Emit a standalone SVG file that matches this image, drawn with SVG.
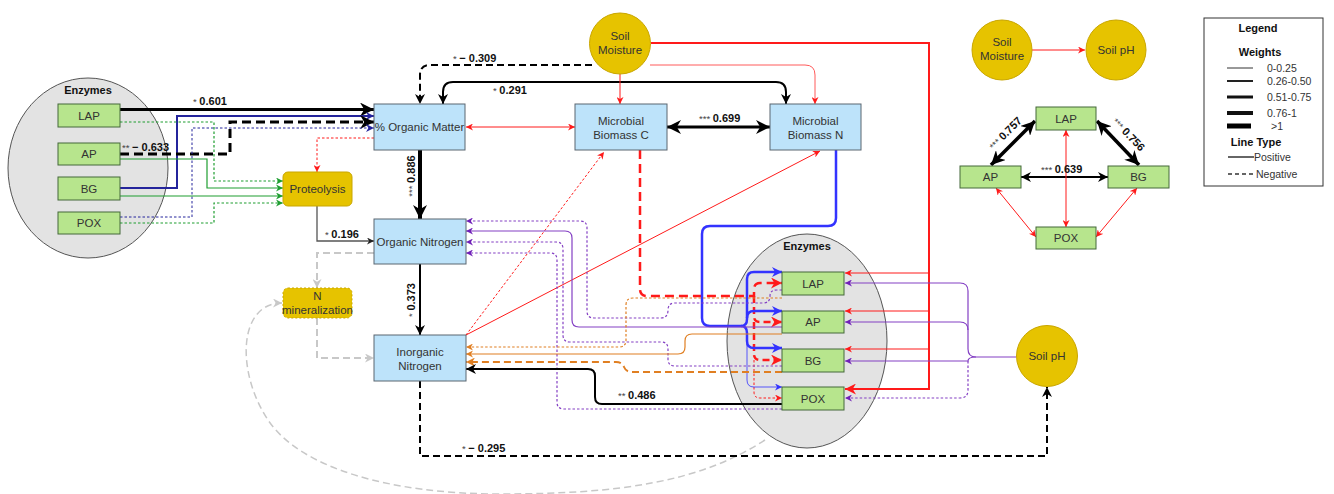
<svg xmlns="http://www.w3.org/2000/svg" width="1334" height="494" viewBox="0 0 1334 494">
<style>
.box{fill:#bde3fa;stroke:#5b6670;stroke-width:1}
.enz{fill:#b7e58d;stroke:#44683a;stroke-width:1}
.gold{fill:#e6c300;stroke:#c9a600;stroke-width:1}
.ell{fill:#e3e3e3;stroke:#555;stroke-width:1}
.t{font-family:"Liberation Sans",Arial,sans-serif;font-size:11.5px;fill:#333;text-anchor:middle}
.hd{font-family:"Liberation Sans",Arial,sans-serif;font-size:11px;font-weight:bold;fill:#111;text-anchor:middle}
.lbl{font-family:"Liberation Sans",Arial,sans-serif;font-size:11px;font-weight:bold;fill:#111}
.st{font-weight:normal;font-size:9.5px;fill:#444}
.lg{font-family:"Liberation Sans",Arial,sans-serif;font-size:10.5px;fill:#333}
#connectors path{fill:none}
.k{stroke:#000}
.r{stroke:#ff1a1a}
.rl{stroke:#ff5a5a}
.b{stroke:#3333ff}
.nv{stroke:#24249c}
.p{stroke:#8440c4}
.o{stroke:#e07f22}
.g{stroke:#1e9e30}
.gr{stroke:#c8c8c8}
.dk{stroke:#555}
.dot{stroke-dasharray:2.5 2}
.dsh{stroke-dasharray:7 4}
.dshL{stroke-dasharray:9 5}
</style>
<defs>
<marker id="ak" viewBox="0 0 10 10" refX="10" refY="5" markerWidth="10" markerHeight="10" markerUnits="userSpaceOnUse" orient="auto-start-reverse"><path d="M0,0 L10,5 L0,10 L3,5z" fill="#000"/></marker>
<marker id="akL" viewBox="0 0 10 10" refX="10" refY="5" markerWidth="14" markerHeight="14" markerUnits="userSpaceOnUse" orient="auto-start-reverse"><path d="M0,0 L10,5 L0,10 L3,5z" fill="#000"/></marker>
<marker id="ar" viewBox="0 0 10 10" refX="10" refY="5" markerWidth="7" markerHeight="7" markerUnits="userSpaceOnUse" orient="auto-start-reverse"><path d="M0,0 L10,5 L0,10 L3,5z" fill="#ff1a1a"/></marker>
<marker id="arL" viewBox="0 0 10 10" refX="10" refY="5" markerWidth="11" markerHeight="11" markerUnits="userSpaceOnUse" orient="auto-start-reverse"><path d="M0,0 L10,5 L0,10 L3,5z" fill="#ff1a1a"/></marker>
<marker id="ab" viewBox="0 0 10 10" refX="10" refY="5" markerWidth="10" markerHeight="10" markerUnits="userSpaceOnUse" orient="auto"><path d="M0,0 L10,5 L0,10 L3,5z" fill="#3333ff"/></marker>
<marker id="abs" viewBox="0 0 10 10" refX="10" refY="5" markerWidth="7" markerHeight="7" markerUnits="userSpaceOnUse" orient="auto"><path d="M0,0 L10,5 L0,10 L3,5z" fill="#3333ff"/></marker>
<marker id="anv" viewBox="0 0 10 10" refX="10" refY="5" markerWidth="8" markerHeight="8" markerUnits="userSpaceOnUse" orient="auto"><path d="M0,0 L10,5 L0,10 L3,5z" fill="#24249c"/></marker>
<marker id="ap" viewBox="0 0 10 10" refX="10" refY="5" markerWidth="7" markerHeight="7" markerUnits="userSpaceOnUse" orient="auto"><path d="M0,0 L10,5 L0,10 L3,5z" fill="#7020b8"/></marker>
<marker id="ao" viewBox="0 0 10 10" refX="10" refY="5" markerWidth="7" markerHeight="7" markerUnits="userSpaceOnUse" orient="auto"><path d="M0,0 L10,5 L0,10 L3,5z" fill="#e07f22"/></marker>
<marker id="aoL" viewBox="0 0 10 10" refX="10" refY="5" markerWidth="9" markerHeight="9" markerUnits="userSpaceOnUse" orient="auto"><path d="M0,0 L10,5 L0,10 L3,5z" fill="#e07f22"/></marker>
<marker id="ag" viewBox="0 0 10 10" refX="10" refY="5" markerWidth="7" markerHeight="7" markerUnits="userSpaceOnUse" orient="auto"><path d="M0,0 L10,5 L0,10 L3,5z" fill="#1e9e30"/></marker>
<marker id="agr" viewBox="0 0 10 10" refX="10" refY="5" markerWidth="9" markerHeight="9" markerUnits="userSpaceOnUse" orient="auto"><path d="M0,0 L10,5 L0,10 L3,5z" fill="#c8c8c8"/></marker>
<marker id="adk" viewBox="0 0 10 10" refX="10" refY="5" markerWidth="7" markerHeight="7" markerUnits="userSpaceOnUse" orient="auto"><path d="M0,0 L10,5 L0,10 L3,5z" fill="#222"/></marker>
</defs>
<rect width="1334" height="494" fill="#fff"/>

<g id="enzymes-left">
<ellipse class="ell" cx="88" cy="168" rx="80" ry="90"/>
<text class="hd" x="88" y="94">Enzymes</text>
</g>
<g id="enzymes-right">
<ellipse class="ell" cx="807" cy="341" rx="80" ry="107"/>
<text class="hd" x="807" y="250">Enzymes</text>
</g>

<g id="connectors">
<path class="k" stroke-width="3" d="M120,109.5 H374" marker-end="url(#akL)"/>
<path class="nv" stroke-width="2" d="M120,188 H177 V116 H374" marker-end="url(#anv)"/>
<path class="k dshL" stroke-width="3" d="M120,154 H230 V122 H374" marker-end="url(#akL)"/>
<path class="nv dot" stroke-width="1" d="M120,217 H192 V128 H374" marker-end="url(#anv)"/>
<path class="g dot" stroke-width="1.2" d="M120,122 H214 V181 H283" marker-end="url(#ag)"/>
<path class="g" stroke-width="1.2" d="M120,159 H207 V188 H283" marker-end="url(#ag)"/>
<path class="g" stroke-width="1.2" d="M120,196 H283" marker-end="url(#ag)"/>
<path class="g dot" stroke-width="1.2" d="M120,223 H214 V203 H283" marker-end="url(#ag)"/>
<path class="r dot" stroke-width="1" d="M374,138 H317 V172" marker-end="url(#ar)"/>
<path class="dk" stroke-width="1.3" d="M317,206 V241 H374" marker-end="url(#adk)"/>
<path class="k" stroke-width="4" d="M420,150 V219" marker-end="url(#akL)"/>
<path class="k" stroke-width="2" d="M420,264 V335" marker-end="url(#ak)"/>
<path class="gr dsh" stroke-width="2" d="M374,253 H317 V288" marker-end="url(#agr)"/>
<path class="gr dsh" stroke-width="2" d="M317,318 V358 H374" marker-end="url(#agr)"/>
<path class="gr dsh" stroke-width="1.5" d="M765,440 C700,482 620,494 500,494 C390,494 300,468 268,420 C236,372 238,303 282,303" marker-end="url(#agr)"/>
<path class="k dsh" stroke-width="2" d="M420,381 V456 H1047 V387" marker-end="url(#ak)"/>
<path class="k dsh" stroke-width="2" d="M592,65 H430 Q420,65 420,75 V104" marker-end="url(#ak)"/>
<path class="k" stroke-width="2" d="M443,104 V92 Q443,82 453,82 H776 Q786,82 786,92 V104" marker-start="url(#ak)" marker-end="url(#ak)"/>
<path class="r" stroke-width="1" d="M620,74 V104" marker-end="url(#ar)"/>
<path class="rl" stroke-width="1" d="M650,65 H805 Q815,65 815,75 V104" marker-end="url(#ar)"/>
<path class="r" stroke-width="2" d="M651,43 H929 V389 H845" marker-end="url(#arL)"/>
<path class="r" stroke-width="1" d="M929,273 H845" marker-end="url(#ar)"/>
<path class="r" stroke-width="1" d="M929,311 H845" marker-end="url(#ar)"/>
<path class="r" stroke-width="1" d="M929,349 H845" marker-end="url(#ar)"/>
<path class="p" stroke-width="1.2" d="M1016,357 H976 Q968,357 968,349 V291 Q968,283 960,283 H845" marker-end="url(#ap)"/>
<path class="p" stroke-width="1.2" d="M968,330 Q968,322 960,322 H845" marker-end="url(#ap)"/>
<path class="p" stroke-width="1.2" d="M976,357 Q968,357 968,361 H845" marker-end="url(#ap)"/>
<path class="p dot" stroke-width="1.2" d="M968,361 V390 Q968,398 960,398 H845" marker-end="url(#ap)"/>
<path class="r" stroke-width="1" d="M466,127 H575" marker-start="url(#ar)" marker-end="url(#ar)"/>
<path class="k" stroke-width="3" d="M667,127 H770" marker-start="url(#akL)" marker-end="url(#akL)"/>
<path class="r dot" stroke-width="1" d="M466,335 L604,152" marker-end="url(#ar)"/>
<path class="r" stroke-width="1" d="M466,335 L820,151" marker-end="url(#ar)"/>
<path class="r dshL" stroke-width="2.5" d="M640,150 V289 Q640,296 647,296 H754 V290 Q754,283 760,283 H782" marker-end="url(#arL)"/>
<path class="r dsh" stroke-width="2.5" d="M754,296 V316 Q754,322 760,322 H782" marker-end="url(#arL)"/>
<path class="r dsh" stroke-width="2.5" d="M754,322 V354 Q754,360 760,360 H782" marker-end="url(#arL)"/>
<path class="r dot" stroke-width="1" d="M754,360 V392 Q754,398 760,398 H782" marker-end="url(#ar)"/>
<path class="b" stroke-width="2.5" d="M836,150 V218 Q836,226 828,226 H710 Q702,226 702,234 V318 Q702,326 710,326 H741 Q747,326 747,319 V279 Q747,272 754,272 H782" marker-end="url(#ab)"/>
<path class="b" stroke-width="2.5" d="M747,318 Q747,311 754,311 H782" marker-end="url(#ab)"/>
<path class="b" stroke-width="2.5" d="M741,326 Q747,326 747,333 V341 Q747,348 754,348 H782" marker-end="url(#ab)"/>
<path class="b" stroke-width="1" stroke-opacity="0.8" d="M747,341 V380 Q747,387 754,387 H782" marker-end="url(#abs)"/>
<path class="p dot" stroke-width="1.2" d="M782,290 H777 Q770,290 770,296 Q770,303 763,303 H675 Q668,303 668,310 Q668,318 661,318 H594 Q587,318 587,311 V228 Q587,221 580,221 H466" marker-end="url(#ap)"/>
<path class="p" stroke-width="1.2" d="M782,327 H579 Q572,327 572,320 V238 Q572,231 565,231 H466" marker-end="url(#ap)"/>
<path class="p dot" stroke-width="1.2" d="M782,366 H675 Q668,366 668,359 V349 Q668,342 661,342 H570 Q563,342 563,335 V249 Q563,242 556,242 H466" marker-end="url(#ap)"/>
<path class="p dot" stroke-width="1.2" d="M782,409 H564 Q557,409 557,402 V260 Q557,253 550,253 H466" marker-end="url(#ap)"/>
<path class="o dot" stroke-width="1.2" d="M782,298 H633 Q626,298 626,305 V340 Q626,347 619,347 H466" marker-end="url(#ao)"/>
<path class="o" stroke-width="1.2" d="M782,334 H692 Q685,334 685,341 V347 Q685,354 678,354 H466" marker-end="url(#ao)"/>
<path class="o dsh" stroke-width="2" d="M782,372 H632 Q626,372 624,367 Q622,362 616,362 H466" marker-end="url(#aoL)"/>
<path class="k" stroke-width="2" d="M782,404 H602 Q595,404 595,397 V376 Q595,369 588,369 H466" marker-end="url(#ak)"/>
<path class="r" stroke-width="1" d="M1032,50 H1085" marker-end="url(#ar)"/>
<path class="k" stroke-width="3.5" d="M1035,121 L991,165" marker-start="url(#akL)" marker-end="url(#akL)"/>
<path class="k" stroke-width="3.5" d="M1097,121 L1139,165" marker-start="url(#akL)" marker-end="url(#akL)"/>
<path class="k" stroke-width="2" d="M1021,177 H1108" marker-start="url(#ak)" marker-end="url(#ak)"/>
<path class="r" stroke-width="1" d="M1066,130 V227" marker-start="url(#ar)" marker-end="url(#ar)"/>
<path class="r" stroke-width="1" d="M996,188 L1036,237" marker-start="url(#ar)" marker-end="url(#ar)"/>
<path class="r" stroke-width="1" d="M1137,188 L1096,237" marker-start="url(#ar)" marker-end="url(#ar)"/>
<text class="lbl" x="193" y="105"><tspan class="st">* </tspan>0.601</text>
<text class="lbl" x="122" y="151"><tspan class="st">** </tspan>− 0.633</text>
<text class="lbl" x="453" y="62"><tspan class="st">* </tspan>− 0.309</text>
<text class="lbl" x="493" y="94"><tspan class="st">* </tspan>0.291</text>
<text class="lbl" x="699" y="122"><tspan class="st">*** </tspan>0.699</text>
<text class="lbl" x="325" y="238"><tspan class="st">* </tspan>0.196</text>
<text class="lbl" text-anchor="middle" transform="translate(415,176) rotate(-90)"><tspan class="st">*** </tspan>0.886</text>
<text class="lbl" text-anchor="middle" transform="translate(415,300) rotate(-90)"><tspan class="st">* </tspan>0.373</text>
<text class="lbl" x="618" y="399"><tspan class="st">** </tspan>0.486</text>
<text class="lbl" x="462" y="452"><tspan class="st">* </tspan>− 0.295</text>
<text class="lbl" text-anchor="middle" transform="translate(1008,136) rotate(-45)"><tspan class="st">*** </tspan>0.757</text>
<text class="lbl" text-anchor="middle" transform="translate(1126,137) rotate(46)"><tspan class="st">*** </tspan>0.756</text>
<text class="lbl" x="1041" y="173"><tspan class="st">*** </tspan>0.639</text>
</g>

<g id="lap-left"><rect class="enz" x="58" y="104" width="62" height="23"/><text class="t" x="89" y="120">LAP</text></g>
<g id="ap-left"><rect class="enz" x="58" y="143" width="62" height="22"/><text class="t" x="89" y="158">AP</text></g>
<g id="bg-left"><rect class="enz" x="58" y="177" width="62" height="23"/><text class="t" x="89" y="193">BG</text></g>
<g id="pox-left"><rect class="enz" x="58" y="212" width="62" height="22"/><text class="t" x="89" y="227">POX</text></g>

<g id="organic-matter"><rect class="box" x="374" y="104" width="91" height="46"/><text class="t" x="419.5" y="131">% Organic Matter</text></g>
<g id="mbc"><rect class="box" x="575" y="104" width="92" height="46"/><text class="t" x="621" y="125">Microbial</text><text class="t" x="621" y="139">Biomass C</text></g>
<g id="mbn"><rect class="box" x="770" y="104" width="91" height="46"/><text class="t" x="815.5" y="125">Microbial</text><text class="t" x="815.5" y="139">Biomass N</text></g>
<g id="soil-moisture"><circle class="gold" cx="620" cy="43.5" r="30.5"/><text class="t" x="620" y="40">Soil</text><text class="t" x="620" y="54">Moisture</text></g>
<g id="proteolysis"><rect class="gold" x="283" y="172" width="69" height="34" rx="5"/><text class="t" x="317.5" y="193">Proteolysis</text></g>
<g id="n-mineralization"><rect class="gold" x="283" y="288" width="69" height="30" rx="5" stroke-dasharray="2 2"/><text class="t" x="317.5" y="300">N</text><text class="t" x="317.5" y="314">mineralization</text></g>
<g id="organic-nitrogen"><rect class="box" x="374" y="219" width="92" height="45"/><text class="t" x="420" y="246">Organic Nitrogen</text></g>
<g id="inorganic-nitrogen"><rect class="box" x="374" y="335" width="92" height="46"/><text class="t" x="420" y="356">Inorganic</text><text class="t" x="420" y="370">Nitrogen</text></g>

<g id="lap-right"><rect class="enz" x="782" y="272" width="62" height="23"/><text class="t" x="813" y="288">LAP</text></g>
<g id="ap-right"><rect class="enz" x="782" y="311" width="62" height="22"/><text class="t" x="813" y="326">AP</text></g>
<g id="bg-right"><rect class="enz" x="782" y="349" width="62" height="23"/><text class="t" x="813" y="365">BG</text></g>
<g id="pox-right"><rect class="enz" x="782" y="387" width="62" height="23"/><text class="t" x="813" y="403">POX</text></g>
<g id="soil-ph"><circle class="gold" cx="1047" cy="356" r="30.5"/><text class="t" x="1047" y="360">Soil pH</text></g>

<g id="soil-moisture-mini"><circle class="gold" cx="1002" cy="50" r="30"/><text class="t" x="1002" y="46">Soil</text><text class="t" x="1002" y="60">Moisture</text></g>
<g id="soil-ph-mini"><circle class="gold" cx="1116" cy="50" r="30"/><text class="t" x="1116" y="54">Soil pH</text></g>
<g id="lap-mini"><rect class="enz" x="1036" y="107" width="60" height="23"/><text class="t" x="1066" y="123">LAP</text></g>
<g id="ap-mini"><rect class="enz" x="960" y="166" width="61" height="22"/><text class="t" x="990.5" y="181">AP</text></g>
<g id="bg-mini"><rect class="enz" x="1108" y="166" width="61" height="22"/><text class="t" x="1138.5" y="181">BG</text></g>
<g id="pox-mini"><rect class="enz" x="1036" y="227" width="60" height="22"/><text class="t" x="1066" y="242">POX</text></g>

<g id="legend">
<rect x="1204" y="18" width="119" height="168" fill="#fff" stroke="#333" stroke-width="1"/>
<text class="hd" x="1258" y="32">Legend</text>
<text class="hd" x="1260" y="56">Weights</text>
<line x1="1227" y1="68" x2="1253" y2="68" stroke="#333" stroke-width="1"/>
<text class="lg" x="1267" y="72">0-0.25</text>
<line x1="1227" y1="81" x2="1253" y2="81" stroke="#222" stroke-width="2"/>
<text class="lg" x="1267" y="85">0.26-0.50</text>
<line x1="1227" y1="97" x2="1253" y2="97" stroke="#111" stroke-width="3"/>
<text class="lg" x="1267" y="101">0.51-0.75</text>
<line x1="1227" y1="113" x2="1253" y2="113" stroke="#111" stroke-width="4"/>
<text class="lg" x="1267" y="117">0.76-1</text>
<line x1="1227" y1="126" x2="1251" y2="126" stroke="#000" stroke-width="5"/>
<text class="lg" x="1271" y="130">&gt;1</text>
<text class="hd" x="1256" y="146">Line Type</text>
<line x1="1228" y1="157" x2="1254" y2="157" stroke="#333" stroke-width="1.5"/>
<text class="lg" x="1254" y="161">Positive</text>
<line x1="1228" y1="174" x2="1253" y2="174" stroke="#333" stroke-width="1.5" stroke-dasharray="4 3"/>
<text class="lg" x="1256" y="178">Negative</text>
</g>
</svg>
